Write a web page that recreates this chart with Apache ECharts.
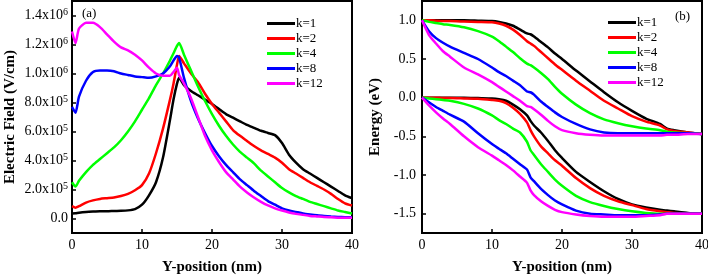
<!DOCTYPE html>
<html style="height: 100%">
<head>
    <meta charset="UTF-8">
    <title>Electric field and energy vs Y-position</title>
    <script src="https://cdn.jsdelivr.net/npm/echarts@6/dist/echarts.min.js"></script>
    <style>
        #main { width: 708px; height: 277px; }
    </style>
</head>
<body style="margin: 0; padding: 0; background: #fff;">
    <div id="main"></div>
    <script>
        // legend names
        var kNames = ['k=1', 'k=2', 'k=4', 'k=8', 'k=12'];
        var kColors = ['#000000', '#ff0000', '#00ff00', '#0000ff', '#ff00ff'];

        // (a) electric field, x in nm, values in units of 1e6 V/cm
        var posA = [0, 0.5, 1, 2, 3, 4, 5, 6, 7, 8, 9, 10, 11, 12, 13, 14, 14.5, 15, 15.3,
            16, 17, 18, 19, 20, 21, 22, 23, 24, 25, 26, 27, 28, 29, 30, 31, 32, 33, 34, 35, 36, 37, 38, 39, 40];
        var fieldK1 = [0.034, 0.036, 0.040, 0.045, 0.048, 0.050, 0.050, 0.052, 0.053, 0.056, 0.065, 0.095, 0.16, 0.25, 0.42, 0.68, 0.82, 0.93, 0.97,
            0.92, 0.88, 0.85, 0.82, 0.79, 0.755, 0.72, 0.695, 0.67, 0.645, 0.625, 0.605, 0.59, 0.575, 0.52, 0.44, 0.385, 0.34, 0.31, 0.28, 0.25, 0.22, 0.19, 0.16, 0.14];
        var fieldK2 = [0.085, 0.075, 0.085, 0.11, 0.125, 0.135, 0.14, 0.145, 0.155, 0.17, 0.195, 0.23, 0.31, 0.45, 0.62, 0.82, 0.93, 1.06, 1.12,
            1.07, 1.0, 0.94, 0.86, 0.79, 0.73, 0.67, 0.61, 0.57, 0.535, 0.5, 0.47, 0.445, 0.42, 0.385, 0.34, 0.31, 0.28, 0.25, 0.225, 0.2, 0.17, 0.135, 0.105, 0.09];
        var fieldK4 = [0.25, 0.22, 0.26, 0.32, 0.37, 0.41, 0.45, 0.49, 0.54, 0.6, 0.67, 0.75, 0.83, 0.92, 1.0, 1.09, 1.14, 1.19, 1.21,
            1.13, 1.02, 0.91, 0.81, 0.72, 0.64, 0.57, 0.51, 0.46, 0.42, 0.38, 0.33, 0.29, 0.25, 0.21, 0.18, 0.155, 0.135, 0.115, 0.1, 0.085, 0.07, 0.055, 0.045, 0.035];
        var fieldK8 = [0.77, 0.73, 0.84, 0.95, 1.01, 1.02, 1.02, 1.015, 1.0, 0.99, 0.98, 0.975, 0.97, 0.98, 1.0, 1.05, 1.09, 1.12, 1.11,
            0.97, 0.81, 0.69, 0.59, 0.5, 0.43, 0.37, 0.32, 0.27, 0.23, 0.19, 0.155, 0.12, 0.095, 0.07, 0.055, 0.045, 0.035, 0.028, 0.022, 0.018, 0.014, 0.011, 0.009, 0.008];
        var fieldK12 = [1.29, 1.21, 1.31, 1.35, 1.35, 1.32, 1.27, 1.22, 1.18, 1.16, 1.13, 1.09, 1.04, 1.0, 0.985, 0.985, 1.01, 1.04, 0.99,
            0.93, 0.83, 0.7, 0.57, 0.47, 0.39, 0.32, 0.27, 0.22, 0.18, 0.145, 0.115, 0.09, 0.07, 0.055, 0.042, 0.032, 0.025, 0.018, 0.014, 0.01, 0.008, 0.006, 0.005, 0.005];

        // (b) energy bands, eV
        var posB = [0, 1, 2, 3, 4, 6, 8, 10, 11, 12, 13, 14, 15, 15.5, 16, 17, 18, 19, 20, 22, 24, 26, 28, 30, 32, 34, 35, 36, 38, 40];
        var upperK1 = [1.0, 1.0, 1.0, 1.0, 1.0, 1.0, 0.995, 0.99, 0.98, 0.96, 0.93, 0.88, 0.83, 0.82, 0.79, 0.72, 0.65, 0.57, 0.5, 0.35, 0.21, 0.07, -0.06, -0.17, -0.27, -0.34, -0.4, -0.42, -0.45, -0.47];
        var upperK2 = [1.0, 1.0, 0.995, 0.99, 0.99, 0.985, 0.98, 0.975, 0.96, 0.93, 0.88, 0.81, 0.73, 0.70, 0.67, 0.59, 0.51, 0.43, 0.36, 0.22, 0.09, -0.04, -0.14, -0.24, -0.31, -0.36, -0.41, -0.43, -0.45, -0.47];
        var upperK4 = [1.0, 0.98, 0.965, 0.95, 0.94, 0.91, 0.86, 0.79, 0.73, 0.66, 0.59, 0.51, 0.44, 0.42, 0.39, 0.32, 0.24, 0.14, 0.05, -0.09, -0.2, -0.28, -0.33, -0.37, -0.4, -0.42, -0.44, -0.45, -0.46, -0.47];
        var upperK8 = [1.0, 0.86, 0.77, 0.71, 0.66, 0.58, 0.5, 0.39, 0.33, 0.28, 0.22, 0.16, 0.08, 0.07, 0.04, -0.05, -0.12, -0.19, -0.25, -0.34, -0.41, -0.45, -0.46, -0.46, -0.46, -0.46, -0.46, -0.46, -0.46, -0.47];
        var upperK12 = [1.0, 0.81, 0.7, 0.6, 0.53, 0.39, 0.3, 0.2, 0.14, 0.08, 0.02, -0.04, -0.11, -0.12, -0.15, -0.22, -0.3, -0.37, -0.42, -0.46, -0.48, -0.49, -0.49, -0.49, -0.49, -0.49, -0.48, -0.48, -0.47, -0.47];
        var lowerK1 = [0, 0, 0, 0, 0, 0, -0.005, -0.01, -0.02, -0.04, -0.09, -0.15, -0.23, -0.3, -0.36, -0.45, -0.56, -0.68, -0.78, -0.96, -1.09, -1.21, -1.31, -1.38, -1.42, -1.45, -1.46, -1.47, -1.49, -1.5];
        var lowerK2 = [0, 0, 0, -0.005, -0.005, -0.01, -0.015, -0.03, -0.04, -0.07, -0.13, -0.21, -0.32, -0.42, -0.5, -0.63, -0.72, -0.81, -0.88, -1.04, -1.17, -1.27, -1.34, -1.39, -1.44, -1.47, -1.48, -1.49, -1.5, -1.5];
        var lowerK4 = [0, -0.01, -0.02, -0.03, -0.04, -0.08, -0.14, -0.23, -0.29, -0.34, -0.4, -0.45, -0.57, -0.68, -0.74, -0.86, -0.96, -1.06, -1.14, -1.27, -1.35, -1.4, -1.44, -1.47, -1.49, -1.5, -1.5, -1.5, -1.5, -1.5];
        var lowerK8 = [0, -0.06, -0.12, -0.17, -0.22, -0.31, -0.46, -0.6, -0.66, -0.72, -0.79, -0.86, -0.93, -1.03, -1.08, -1.18, -1.26, -1.33, -1.38, -1.46, -1.5, -1.51, -1.52, -1.52, -1.52, -1.51, -1.5, -1.5, -1.5, -1.5];
        var lowerK12 = [0, -0.1, -0.19, -0.27, -0.34, -0.5, -0.64, -0.75, -0.81, -0.87, -0.94, -1.02, -1.1, -1.2, -1.26, -1.34, -1.4, -1.45, -1.48, -1.51, -1.53, -1.54, -1.54, -1.54, -1.53, -1.52, -1.5, -1.5, -1.5, -1.5];

        // tick labels
        var posTicks = [0, 10, 20, 30, 40];
        var fieldTicks = [0, 0.2, 0.4, 0.6, 0.8, 1.0, 1.2, 1.4];
        var energyTicks = [-1.5, -1.0, -0.5, 0.0, 0.5, 1.0];

        var serif = 'Liberation Serif';
        var fieldSets = [fieldK1, fieldK2, fieldK4, fieldK8, fieldK12];
        var upperSets = [upperK1, upperK2, upperK4, upperK8, upperK12];
        var lowerSets = [lowerK1, lowerK2, lowerK4, lowerK8, lowerK12];

        function pairs(xs, ys) {
            return xs.map(function (x, i) { return [x, ys[i]]; });
        }

        // 1.2 -> 1.2x10^6 , 0.4 -> 4.0x10^5
        function sciLabel(v) {
            var val = Math.round(v * 1e6);
            if (val === 0) return '0.0';
            var e = Math.floor(Math.log10(val) + 1e-9);
            var m = (val / Math.pow(10, e)).toFixed(1);
            return m + 'x10{sup|' + e + '}';
        }

        function xAxisCfg(idx) {
            return {
                type: 'value', gridIndex: idx, min: 0, max: 40, interval: 10,
                name: 'Y-position (nm)', nameLocation: 'middle', nameGap: 27,
                nameTextStyle: { fontFamily: serif, fontWeight: 'bold', fontSize: 15, color: '#000' },
                axisLine: { onZero: false, lineStyle: { color: '#000', width: 2 } },
                axisTick: { inside: true, length: 4, customValues: posTicks, lineStyle: { color: '#000', width: 1.5 } },
                axisLabel: { customValues: posTicks, fontFamily: serif, fontSize: 14, color: '#000', margin: 5 },
                splitLine: { show: false }
            };
        }

        function lineSeries(name, i, xi, data) {
            return {
                name: name, type: 'line', xAxisIndex: xi, yAxisIndex: xi,
                data: data, showSymbol: false, smooth: 0.2,
                lineStyle: { color: kColors[i], width: 2.5 }, itemStyle: { color: kColors[i] }
            };
        }

        var series = [];
        kNames.forEach(function (name, i) {
            series.push(lineSeries(name, i, 0, pairs(posA, fieldSets[i])));
        });
        kNames.forEach(function (name, i) {
            series.push(lineSeries(name, i, 1, pairs(posB, upperSets[i])));
            series.push(lineSeries(name, i, 1, pairs(posB, lowerSets[i])));
        });

        var legendBase = {
            orient: 'vertical', icon: 'rect', itemWidth: 28, itemHeight: 3, itemGap: 2,
            textStyle: { fontFamily: serif, fontSize: 13, color: '#000', padding: [0, 0, 0, -4] },
            data: kNames
        };

        var option = {
            animation: false,
            backgroundColor: '#fff',
            grid: [
                { left: 72, top: 1, width: 280, height: 232, outerBoundsMode: 'none', show: true, borderColor: '#000', borderWidth: 2 },
                { left: 422, top: 1, width: 280, height: 232, outerBoundsMode: 'none', show: true, borderColor: '#000', borderWidth: 2 }
            ],
            xAxis: [xAxisCfg(0), xAxisCfg(1)],
            yAxis: [
                {
                    type: 'value', gridIndex: 0, min: -0.1, max: 1.5,
                    name: 'Electric Field (V/cm)', nameLocation: 'middle', nameGap: 54,
                    nameTextStyle: { fontFamily: serif, fontWeight: 'bold', fontSize: 15, color: '#000' },
                    axisLine: { onZero: false, lineStyle: { color: '#000', width: 2 } },
                    axisTick: { inside: true, length: 4, customValues: fieldTicks, lineStyle: { color: '#000', width: 1.5 } },
                    axisLabel: {
                        customValues: fieldTicks, formatter: sciLabel, margin: 4,
                        fontFamily: serif, fontSize: 14, color: '#000',
                        rich: { sup: { fontFamily: serif, fontSize: 10, color: '#000', verticalAlign: 'top', padding: [0, 0, 6, 0] } }
                    },
                    splitLine: { show: false }
                },
                {
                    type: 'value', gridIndex: 1, min: -1.75, max: 1.25,
                    name: 'Energy (eV)', nameLocation: 'middle', nameGap: 39,
                    nameTextStyle: { fontFamily: serif, fontWeight: 'bold', fontSize: 15, color: '#000' },
                    axisLine: { onZero: false, lineStyle: { color: '#000', width: 2 } },
                    axisTick: { inside: true, length: 4, customValues: energyTicks, lineStyle: { color: '#000', width: 1.5 } },
                    axisLabel: {
                        customValues: energyTicks, margin: 6,
                        formatter: function (v) { return v.toFixed(1); },
                        fontFamily: serif, fontSize: 14, color: '#000'
                    },
                    splitLine: { show: false }
                }
            ],
            legend: [
                Object.assign({}, legendBase, { left: 262, top: 12 }),
                Object.assign({}, legendBase, { left: 603, top: 11 })
            ],
            graphic: [
                { type: 'text', left: 82, top: 7, style: { text: '(a)', font: '13px "Liberation Serif"', fill: '#000' } },
                { type: 'text', left: 675, top: 10, style: { text: '(b)', font: '13px "Liberation Serif"', fill: '#000' } }
            ],
            series: series
        };

        var chart = echarts.init(document.getElementById('main'));
        chart.setOption(option);
    </script>
</body>
</html>
